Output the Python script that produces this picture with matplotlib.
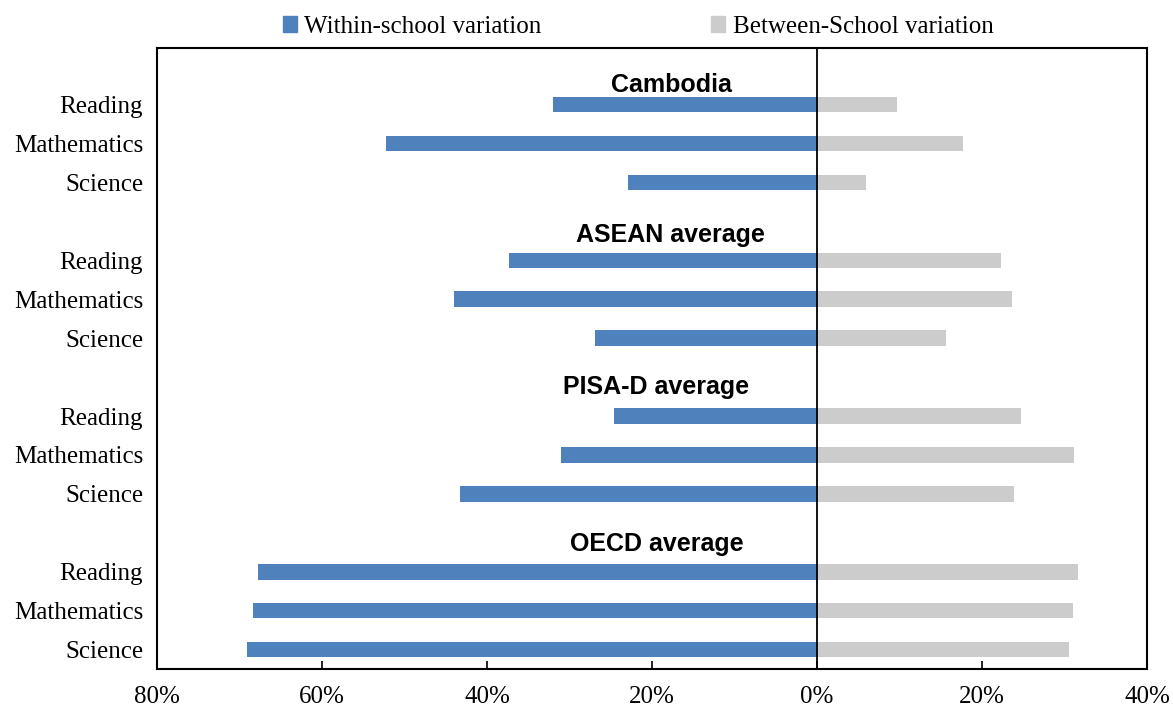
import numpy as np
import matplotlib.pyplot as plt
from matplotlib.patches import Patch
from matplotlib.ticker import FuncFormatter

groups = ['Cambodia', 'ASEAN average', 'PISA-D average', 'OECD average']
subjects = ['Reading', 'Mathematics', 'Science']

within = [
    [32.0, 52.2, 22.9],
    [37.3, 44.0, 26.9],
    [24.6, 31.0, 43.3],
    [67.8, 68.4, 69.1],
]
between = [
    [9.7, 17.7, 6.0],
    [22.3, 23.7, 15.6],
    [24.7, 31.1, 23.9],
    [31.6, 31.0, 30.5],
]

blue = '#4F81BD'
grey = '#CCCCCC'
serif = ['Liberation Serif', 'DejaVu Serif']
sans = ['Liberation Sans', 'DejaVu Sans']

fig = plt.figure(figsize=(11.73, 7.08), dpi=100)
ax = fig.add_axes([0.1338, 0.055, 0.844, 0.877])

ypos, ylabels, w_vals, b_vals = [], [], [], []
for g in range(len(groups)):
    for s in range(len(subjects)):
        ypos.append(g * 4 + s + 1)
        ylabels.append(subjects[s])
        w_vals.append(within[g][s])
        b_vals.append(between[g][s])
ypos = np.array(ypos)

ax.barh(ypos, -np.array(w_vals), height=0.4, color=blue)
ax.barh(ypos, b_vals, height=0.4, color=grey)
ax.axvline(0, color='black', lw=1.3)

# header labels (manual text boxes in original)
head_y = [0.5, 4.36, 8.26, 12.3]
head_x = [-17.6, -17.7, -19.5, -19.4]
for name, hx, hy in zip(groups, head_x, head_y):
    ax.text(hx, hy, name, ha='center', va='center', fontsize=18,
            fontweight='bold', family=sans)

ax.set_xlim(-80, 40)
ax.set_ylim(15.5, -0.45)
ax.set_xticks([-80, -60, -40, -20, 0, 20, 40])
ax.xaxis.set_major_formatter(FuncFormatter(lambda v, p: f'{abs(v):.0f}%'))
ax.set_yticks(ypos)
ax.set_yticklabels(ylabels)
ax.tick_params(axis='x', direction='in', length=6, width=1.2, pad=12,
               labelsize=18)
ax.tick_params(axis='y', length=0, pad=10, labelsize=18)
for lab in ax.get_xticklabels() + ax.get_yticklabels():
    lab.set_family(serif)
for sp in ax.spines.values():
    sp.set_linewidth(1.5)

handles = [Patch(color=blue, label='Within-school variation'),
           Patch(color=grey, label='Between-School variation')]
fig.legend(handles=handles, loc='center', bbox_to_anchor=(0.544, 0.962),
           ncol=2, frameon=False, prop={'family': serif, 'size': 18},
           handlelength=0.55, handleheight=0.6, handletextpad=0.3,
           columnspacing=6.8)

fig.savefig('out.png', dpi=100)
